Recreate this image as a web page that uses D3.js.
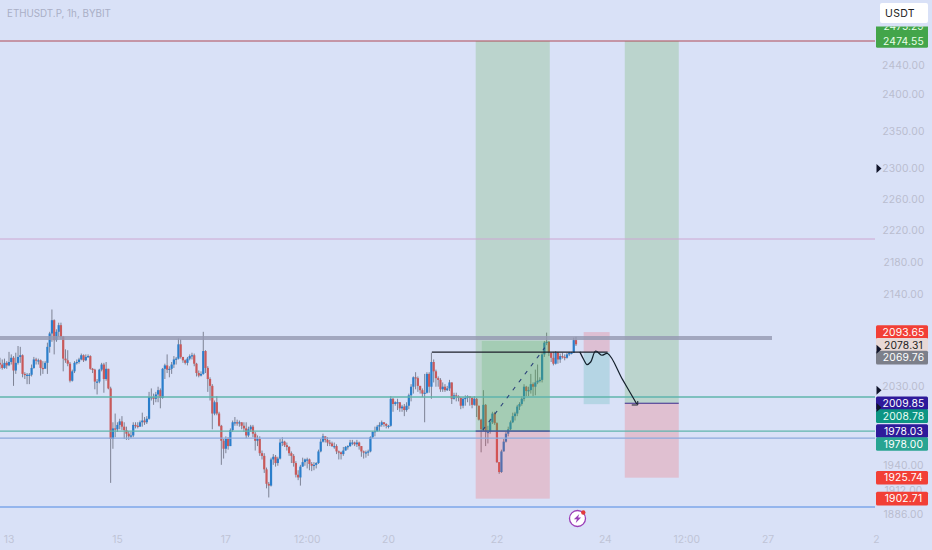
<!DOCTYPE html>
<html><head><meta charset="utf-8">
<script src="https://cdn.jsdelivr.net/npm/d3@7"></script>
<style>html,body{margin:0;padding:0;background:#d9e1f7;overflow:hidden}svg{display:block}text{font-family:Inter,"Noto Sans",sans-serif}</style>
</head><body><svg id="c" width="932" height="550"></svg>
<script>
const firstHour=-4;
const closes=[2055,2051,2057,2054,2058,2063,2048,2057,2064,2066,2044,2043,2043,2043,2051,2061,2060,2060,2051,2050,2057,2076,2092,2108,2084,2094,2102,2088,2062,2060,2056,2036,2047,2057,2058,2061,2066,2060,2064,2065,2050,2049,2035,2035,2049,2055,2038,2050,2027,1969,1981,1980,1985,1989,1983,1979,1975,1972,1973,1985,1984,1983,1988,1990,1988,1992,2017,2017,2015,2020,2025,2016,2050,2054,2049,2050,2055,2061,2062,2079,2064,2060,2057,2062,2065,2066,2056,2045,2042,2044,2071,2051,2038,2030,1998,2011,1998,1984,1967,1958,1969,1961,1979,1988,1988,1987,1988,1984,1981,1973,1980,1983,1975,1967,1969,1953,1950,1935,1919,1917,1946,1949,1942,1947,1965,1966,1962,1960,1953,1950,1942,1929,1926,1938,1943,1946,1946,1941,1939,1940,1942,1955,1966,1972,1968,1965,1964,1961,1961,1955,1954,1952,1956,1960,1961,1965,1965,1963,1965,1961,1955,1954,1954,1955,1971,1977,1978,1983,1985,1988,1986,1984,1984,2015,2009,2011,2011,2004,2006,2002,2007,2019,2029,2040,2039,2030,2025,2021,2022,2044,2029,2058,2047,2039,2037,2026,2029,2025,2027,2034,2015,2019,2018,2016,2007,2015,2016,2018,2016,2008,2015,2007,1991,1980,2008,1977,1977,1988,1998,1987,1943,1932,1955,1966,1975,1980,1988,1995,1998,2006,2009,2015,2029,2024,2025,2032,2029,2034,2036,2037,2067,2081,2082,2069,2063,2056,2069,2061,2065,2064,2063,2067,2069,2069,2084,2079];
const highs=[2063,2061,2062,2059,2070,2067,2065,2069,2077,2076,2067,2046,2045,2045,2055,2064,2063,2062,2061,2059,2059,2081,2094,2121,2109,2097,2105,2105,2089,2073,2072,2058,2049,2059,2061,2063,2068,2067,2067,2067,2066,2051,2050,2038,2050,2057,2057,2058,2050,2029,1988,1998,1988,1992,1995,1988,1983,1978,1977,1988,1988,1988,1990,1999,1994,1995,2023,2027,2021,2023,2029,2027,2051,2056,2067,2053,2058,2065,2064,2086,2085,2064,2061,2064,2067,2069,2068,2057,2048,2047,2094,2072,2053,2040,2032,2013,2018,2000,1985,1969,1972,1971,1981,1990,1994,1991,1990,1988,1988,1988,1983,1985,1985,1977,1973,1972,1956,1953,1937,1921,1948,1952,1951,1949,1969,1971,1967,1965,1961,1955,1952,1944,1934,1940,1948,1947,1948,1947,1943,1943,1943,1957,1969,1975,1972,1971,1968,1966,1965,1963,1956,1955,1960,1961,1962,1968,1968,1966,1968,1966,1961,1956,1956,1957,1972,1978,1983,1985,1988,1990,1988,1987,1985,2018,2016,2012,2015,2011,2008,2009,2011,2021,2032,2041,2046,2041,2030,2027,2044,2046,2046,2069,2061,2049,2041,2039,2034,2032,2030,2037,2034,2022,2022,2019,2017,2017,2019,2019,2018,2017,2018,2016,2007,1992,2025,2009,1984,1992,2000,2000,1988,1943,1957,1969,1977,1983,1990,1999,2000,2008,2011,2018,2032,2030,2029,2044,2034,2049,2055,2040,2069,2083,2093,2083,2069,2070,2071,2070,2068,2069,2067,2069,2070,2070,2087,2088];
const lows=[2050,2049,2050,2050,2053,2055,2030,2044,2055,2057,2040,2038,2032,2032,2041,2050,2055,2055,2042,2044,2051,2044,2069,2082,2067,2082,2088,2085,2047,2057,2053,2034,2035,2045,2055,2056,2060,2058,2059,2063,2049,2045,2026,2020,2033,2047,2022,2036,2026,1920,1958,1971,1977,1980,1979,1969,1968,1968,1970,1971,1981,1981,1983,1983,1985,1986,1991,2013,2008,2011,2011,2004,2015,2038,2045,2040,2044,2051,2055,2061,2062,2057,2055,2054,2060,2061,2053,2041,2040,2041,2043,2045,2023,2013,1980,1996,1996,1983,1940,1947,1953,1957,1961,1977,1984,1984,1983,1980,1977,1970,1971,1977,1971,1956,1961,1950,1946,1931,1914,1904,1916,1940,1938,1939,1946,1961,1960,1956,1950,1942,1938,1926,1923,1917,1938,1939,1936,1934,1933,1934,1936,1941,1954,1965,1965,1961,1961,1960,1958,1952,1946,1946,1950,1956,1957,1960,1962,1961,1960,1957,1949,1947,1948,1950,1954,1970,1972,1977,1978,1983,1983,1981,1981,1983,2000,2007,2002,2000,2000,1995,2000,2003,2012,2021,2026,2023,2021,2017,1988,2021,2022,2015,2034,2029,2029,2023,2023,2023,2024,2024,2009,2014,2012,2012,2003,2004,2007,2011,2007,2004,2007,1994,1990,1954,1978,1961,1964,1975,1986,1985,1942,1930,1931,1955,1965,1972,1979,1987,1990,1995,2002,2007,2012,2018,2018,2021,2018,2019,2032,2034,2034,2064,2078,2065,2058,2054,2055,2056,2057,2062,2060,2062,2065,2067,2069,2077];

const axisPrices=[2440,2400,2350,2300,2260,2220,2180,2140,2030,1940,1912,1886];
const tagValues=[2474.55,2093.65,2078.31,2069.76,2009.85,2008.78,1978.03,1978.00,1925.74,1902.71];
const tagColors=["#43a54a","#f23f36","#e8d8d6","#7c7f8a","#2e1a9a","#0d9583","#2e1a9a","#28a492","#f23f36","#f23f36"];
const tagInk=["#e9ffe9","#fff","#222","#fff","#fff","#eafff8","#fff","#fff","#fff","#fff"];
const tagNudge=[0,0,0,5.5,0,12,0,13,0,0];
const arrowValues=[2300,2073,2025,2005];

const hLevels=[2474.55,2208.6,2017,1978,1970,1893.6];
const hColors=["#b04a57","#cda6d2","#5fb5ac","#5fb5ac","#8ba9dc","#7da6ea"];
const hWidths=[1,1,1.4,1.2,1.4,1.6];
const bandPrice=2086.7;

const tickHours=[0,48,96,132,168,216,264,300,336,384];
const tickLabels=["13","15","17","12:00","20","22","24","12:00","27","2"];

const trendHours=[187.2,265], trendPrice=2069.76;
const dashHours=[209.7,237.2], dashPrices=[1979,2075];
const curveHours=[252.7,254.4,255.8,257.5,259.7,262.4,265,271.7,277.9];
const curvePrices=[2070,2061,2055,2058,2071,2066,2068,2037,2009];

const svg=d3.select("#c");
const x=d3.scaleLinear().domain([0,336]).range([9,768]);
const y=d3.scaleLog().domain([1886,2474.55]).range([514,41]);
const PLOT_R=875;
const defs=svg.append("defs");
defs.append("clipPath").attr("id","plot").append("rect").attr("x",0).attr("y",0).attr("width",PLOT_R).attr("height",526);
defs.append("clipPath").attr("id","tagClip").append("rect").attr("x",870).attr("y",26.5).attr("width",62).attr("height",40);
const plot=svg.append("g").attr("clip-path","url(#plot)");

// candles
const candles=closes.map((c,i)=>({h:firstHour+i,o:i?closes[i-1]:c+2,c,hi:highs[i],lo:lows[i]}));
const cg=plot.append("g").style("filter","blur(0.5px)");
cg.selectAll("line").data(candles).join("line")
 .attr("x1",d=>x(d.h)).attr("x2",d=>x(d.h)).attr("y1",d=>y(d.hi)).attr("y2",d=>y(d.lo))
 .attr("stroke","#7d8294").attr("stroke-width",1);
cg.selectAll("rect").data(candles).join("rect")
 .attr("x",d=>x(d.h)-1.1).attr("width",2.2)
 .attr("y",d=>y(Math.max(d.o,d.c))).attr("height",d=>Math.max(1.2,Math.abs(y(d.o)-y(d.c))))
 .attr("fill",d=>d.c>=d.o?"#2a7ecb":"#c9595a");

// position boxes
const boxes=[
 {h0:206.6,h1:239.4,top:2474.55,bot:1978,fill:"rgba(80,170,60,.22)"},
 {h0:209.3,h1:239.4,top:2083,bot:1978,fill:"rgba(76,175,80,.2)"},
 {h0:206.6,h1:239.4,top:1978,bot:1902.71,fill:"rgba(255,60,60,.2)"},
 {h0:272.6,h1:296.5,top:2474.55,bot:2009.85,fill:"rgba(80,170,60,.22)"},
 {h0:272.6,h1:296.5,top:2009.85,bot:1925.74,fill:"rgba(255,60,60,.2)"},
 {h0:254.4,h1:265.9,top:2093.65,bot:2069.76,fill:"rgba(242,54,69,.2)"},
 {h0:254.4,h1:265.9,top:2069.76,bot:2008.78,fill:"rgba(38,166,154,.2)"}
];
plot.append("g").selectAll("rect").data(boxes).join("rect")
 .attr("x",d=>x(d.h0)).attr("width",d=>x(d.h1)-x(d.h0))
 .attr("y",d=>y(d.top)).attr("height",d=>y(d.bot)-y(d.top)).attr("fill",d=>d.fill);

// horizontal levels
plot.append("line").attr("x1",0).attr("x2",772).attr("y1",y(bandPrice)).attr("y2",y(bandPrice))
 .attr("stroke","#9599b2").attr("stroke-width",4).attr("opacity",.8);
plot.append("g").selectAll("line").data(hLevels).join("line")
 .attr("x1",0).attr("x2",PLOT_R).attr("y1",d=>y(d)).attr("y2",d=>y(d))
 .attr("stroke",(d,i)=>hColors[i]).attr("stroke-width",(d,i)=>hWidths[i]);

// entry lines of boxes
plot.append("line").attr("x1",x(206.6)).attr("x2",x(239.4)).attr("y1",y(1978)).attr("y2",y(1978)).attr("stroke","#3a2a8e").attr("stroke-width",1);
plot.append("line").attr("x1",x(272.6)).attr("x2",x(296.5)).attr("y1",y(2009.85)).attr("y2",y(2009.85)).attr("stroke","#3a2a8e").attr("stroke-width",1);

// drawings
plot.append("line").attr("x1",x(trendHours[0])).attr("x2",x(trendHours[1])).attr("y1",y(trendPrice)).attr("y2",y(trendPrice))
 .attr("stroke","#1c1f2a").attr("stroke-width",1.1);
plot.append("line").attr("x1",x(dashHours[0])).attr("x2",x(dashHours[1])).attr("y1",y(dashPrices[0])).attr("y2",y(dashPrices[1]))
 .attr("stroke","#2a3f7a").attr("stroke-width",1.1).attr("stroke-dasharray","4 6");
const curve=d3.line().x((d,i)=>x(curveHours[i])).y(d=>y(d)).curve(d3.curveCatmullRom);
plot.append("path").attr("d",curve(curvePrices)).attr("fill","none").attr("stroke","#14202c").attr("stroke-width",1.2);
const tipX=x(curveHours[8]),tipY=y(curvePrices[8]);
plot.append("path").attr("d",`M${tipX-5},${tipY+1}L${tipX+1},${tipY+1}L${tipX+1},${tipY-3}`).attr("fill","none").attr("stroke","#14202c").attr("stroke-width",1);

// right axis labels
const axisG=svg.append("g").attr("text-anchor","middle").attr("font-size",10.3).attr("fill","#b9bdcf").attr("letter-spacing",".2");
axisG.selectAll("text").data(axisPrices).join("text").attr("x",903.5).attr("y",d=>y(d)+3.8).text(d=>d.toFixed(2));

// tag behind USDT, cut off at its top
const t0=svg.append("g").attr("clip-path","url(#tagClip)");
t0.append("rect").attr("x",876).attr("y",y(2474.55)-16).attr("width",52).attr("height",18).attr("rx",1.5).attr("fill","#43a54a");
t0.append("text").attr("x",903.5).attr("y",y(2474.55)-11).attr("text-anchor","middle").attr("font-size",10.3).attr("fill","#e9ffe9").text("2475.29");

// price tags
const tg=svg.append("g").selectAll("g").data(tagValues).join("g")
 .attr("transform",(d,i)=>`translate(876,${y(d)+tagNudge[i]})`);
tg.append("rect").attr("x",0).attr("y",-6.8).attr("width",52).attr("height",13.6).attr("rx",1.5).attr("fill",(d,i)=>tagColors[i]);
tg.append("text").attr("x",27.5).attr("y",3.8).attr("text-anchor","middle").attr("font-size",10.3).attr("letter-spacing",".2")
 .attr("fill",(d,i)=>tagInk[i]).text(d=>d.toFixed(2));

// black pointers
svg.append("g").selectAll("path").data(arrowValues).join("path")
 .attr("d",d=>`M876.5,${y(d)-4.5}L881.5,${y(d)}L876.5,${y(d)+4.5}Z`).attr("fill","#10142a");

// USDT button
svg.append("rect").attr("x",880).attr("y",3).attr("width",48).attr("height",20).attr("rx",2).attr("fill","#fff");
svg.append("text").attr("x",900).attr("y",17).attr("text-anchor","middle").attr("font-size",10.5).attr("fill","#222").attr("letter-spacing",".3").text("USDT");

// title
svg.append("text").attr("x",7).attr("y",16.5).attr("font-size",9.8).attr("fill","#a9afc6").text("ETHUSDT.P, 1h, BYBIT");

// time axis
svg.append("g").attr("text-anchor","middle").attr("font-size",10.3).attr("fill","#bfc4d6")
 .selectAll("text").data(tickHours).join("text").attr("x",d=>x(d)).attr("y",543).text((d,i)=>tickLabels[i]);

// lightning badge
const b=svg.append("g").attr("transform","translate(577.5,518.5)");
b.append("circle").attr("r",8).attr("fill","#fff").attr("stroke","#9b3fb8").attr("stroke-width",1.3);
b.append("path").attr("d","M1.8,-4.6L-3.6,0.8L-0.6,0.8L-1.8,4.6L3.6,-1L0.6,-1Z").attr("fill","#9b3fb8");
b.append("circle").attr("cx",5.8).attr("cy",-6).attr("r",2.2).attr("fill","#e23a3a");
</script></body></html>
